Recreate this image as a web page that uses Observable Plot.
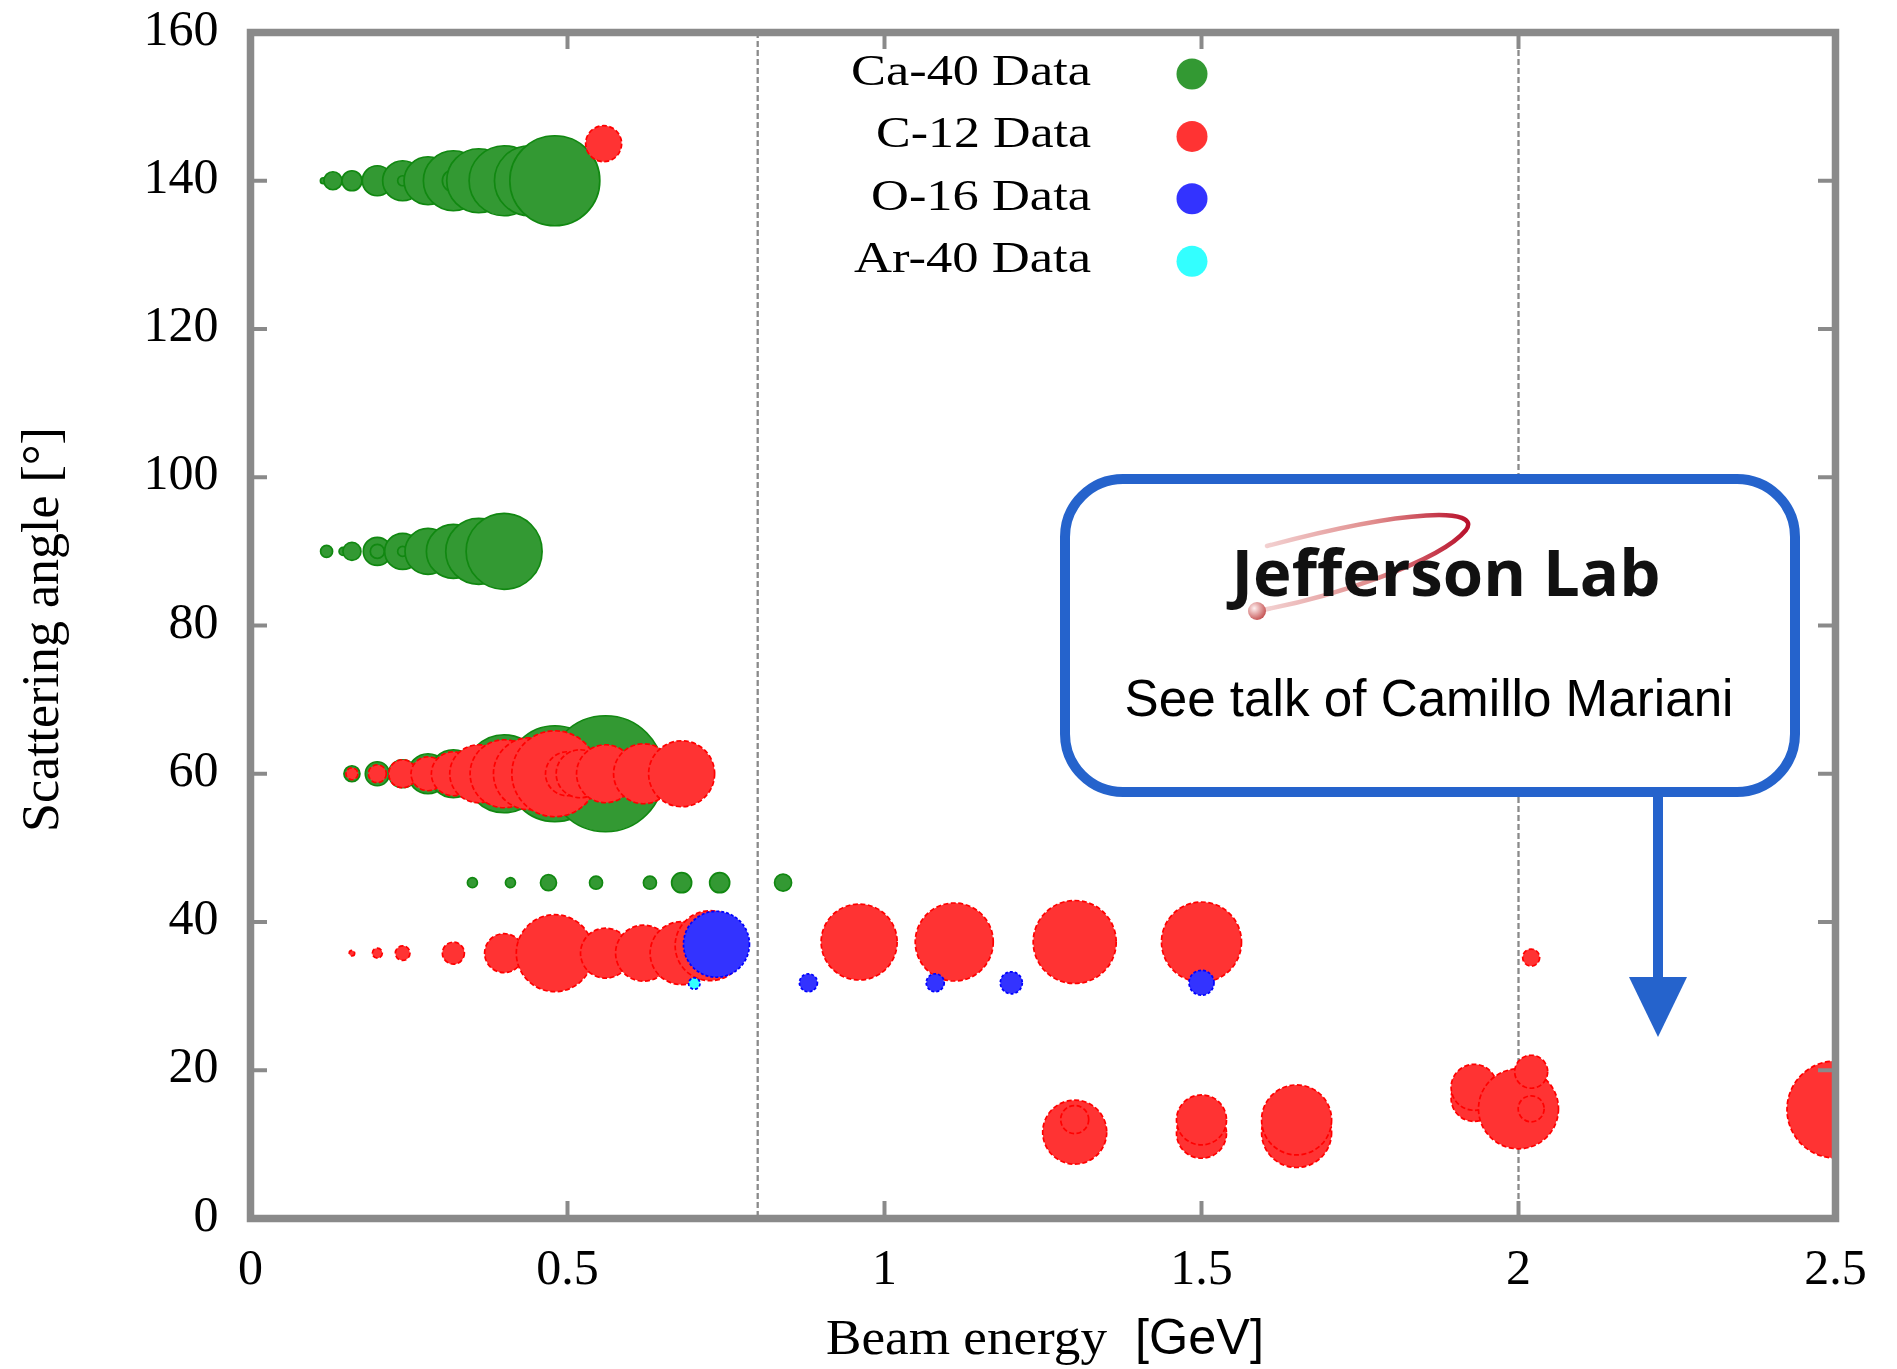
<!DOCTYPE html>
<html><head><meta charset="utf-8">
<script src="https://cdn.jsdelivr.net/npm/d3@7"></script>
<script src="https://cdn.jsdelivr.net/npm/@observablehq/plot@0.6"></script>
<style>
html,body{margin:0;padding:0;background:#fff;}
#wrap{position:relative;width:1897px;height:1369px;overflow:hidden;background:#fff;}
#overlay{position:absolute;left:0;top:0;pointer-events:none;}
</style></head><body><div id="wrap"></div>
<script>
// ---------------- data ----------------
const xTicks = [0, 0.5, 1, 1.5, 2, 2.5];
const yTicks = [0, 20, 40, 60, 80, 100, 120, 140, 160];
const refLines = [0.8, 2.0];
const seriesNames = ["Ca-40 Data", "C-12 Data", "O-16 Data", "Ar-40 Data"];

// Ca-40 (green)
const ca40Energy = [0.115, 0.13, 0.16, 0.20, 0.24, 0.24, 0.28, 0.32, 0.32, 0.36, 0.40, 0.44, 0.48,
                    0.12, 0.146, 0.16, 0.20, 0.20, 0.24, 0.24, 0.28, 0.32, 0.36, 0.40,
                    0.16, 0.20, 0.24, 0.28, 0.32, 0.36, 0.40, 0.48, 0.56,
                    0.35, 0.41, 0.47, 0.545, 0.63, 0.68, 0.74, 0.84];
const ca40Angle  = [140, 140, 140, 140, 140, 140, 140, 140, 140, 140, 140, 140, 140,
                    90, 90, 90, 90, 90, 90, 90, 90, 90, 90, 90,
                    60, 60, 60, 60, 60, 60, 60, 60, 60,
                    45.3, 45.3, 45.3, 45.3, 45.3, 45.3, 45.3, 45.3];
const ca40Size   = [3, 9, 10, 15, 20, 5, 24, 30, 11, 32, 35, 35, 45,
                    6, 4, 9, 14, 7, 18, 5, 23, 27, 33, 38,
                    8, 12, 14, 20, 24, 28, 39, 48, 58,
                    5, 5, 8, 6.5, 6.5, 10, 10, 8.5];

// C-12 (red)
const c12Energy = [0.557,
                   0.16, 0.20, 0.24, 0.28, 0.32, 0.36, 0.40, 0.44, 0.48, 0.50, 0.52, 0.56, 0.62, 0.68,
                   0.16, 0.20, 0.24, 0.32, 0.40, 0.48, 0.56, 0.62, 0.68, 0.725,
                   0.96, 1.11, 1.30, 1.50, 2.02,
                   1.30, 1.30, 1.50, 1.50, 1.65, 1.65, 1.93, 1.93, 2.00, 2.02, 2.02, 2.50];
const c12Angle  = [145,
                   60, 60, 60, 60, 60, 60, 60, 60, 60, 60, 60, 60, 60, 60,
                   35.8, 35.8, 35.8, 35.8, 35.8, 35.8, 35.8, 35.8, 35.8, 36.8,
                   37.3, 37.3, 37.3, 37.3, 35.2,
                   11.65, 13.35, 11.5, 13.3, 11.6, 13.3, 16.2, 17.7, 14.8, 14.8, 19.8, 14.7];
const c12Size   = [18,
                   6, 9, 14, 17, 22, 29, 34, 36, 43, 22, 24, 29, 30, 33,
                   2.7, 5, 7.3, 11, 19.5, 38.5, 25, 28, 31.5, 35,
                   38, 39, 41.5, 40, 8.5,
                   32, 14, 25, 25, 35, 35, 23, 23, 40, 13, 16.5, 48.5];

// O-16 (blue)
const o16Energy = [0.735, 0.88, 1.08, 1.20, 1.50];
const o16Angle  = [37, 31.8, 31.8, 31.8, 31.8];
const o16Size   = [33, 9, 9, 11, 12.5];

// Ar-40 (cyan)
const ar40Energy = [0.70];
const ar40Angle  = [31.7];
const ar40Size   = [5.7];

// ---------------- build tables ----------------
const table = (E, A, S) => E.map((e, i) => ({energy: e, angle: A[i], size: S[i]}));
const ca40 = table(ca40Energy, ca40Angle, ca40Size);
const c12 = table(c12Energy, c12Angle, c12Size);
const o16 = table(o16Energy, o16Angle, o16Size);
const ar40 = table(ar40Energy, ar40Angle, ar40Size);

const W = 1897, H = 1369;
const mL = 250, mR = 62, mT = 32, mB = 151;
const innerW = W - mL - mR, innerH = H - mT - mB;
const SERIF = "'Liberation Serif','Times New Roman',serif";
const SANS = "'Liberation Sans',Arial,sans-serif";
const GREY = "#8a8a8a";
const TICK = 17;

const colors = {
  ca: {fill: "#339933", stroke: "#118811"},
  c: {fill: "#ff3333", stroke: "#ff0000"},
  o: {fill: "#3333ff", stroke: "#0000ff"},
  ar: {fill: "#33ffff", stroke: "#0000ff"}
};

const plot = Plot.plot({
  width: W, height: H,
  marginLeft: mL, marginRight: mR, marginTop: mT, marginBottom: mB,
  style: {fontFamily: SERIF, background: "#fff", color: "#000", overflow: "visible"},
  x: {domain: [0, 2.5]},
  y: {domain: [0, 160]},
  r: {type: "linear", domain: [0, 50], range: [0, 50]},
  marks: [
    Plot.ruleX(refLines, {x: d => d, stroke: GREY, strokeWidth: 2.3, strokeDasharray: "6,3"}),
    Plot.dot(ca40, {x: "energy", y: "angle", r: "size", fill: colors.ca.fill, fillOpacity: 1, stroke: colors.ca.stroke, strokeWidth: 1.7, sort: null, clip: true}),
    Plot.dot(c12, {x: "energy", y: "angle", r: "size", fill: colors.c.fill, fillOpacity: 1, stroke: colors.c.stroke, strokeWidth: 1.7, strokeDasharray: "5,2.5", sort: null, clip: true}),
    Plot.dot(o16, {x: "energy", y: "angle", r: "size", fill: colors.o.fill, fillOpacity: 1, stroke: colors.o.stroke, strokeWidth: 1.7, strokeDasharray: "3,2", sort: null, clip: true}),
    Plot.dot(ar40, {x: "energy", y: "angle", r: "size", fill: colors.ar.fill, fillOpacity: 1, stroke: colors.ar.stroke, strokeWidth: 1.7, strokeDasharray: "3,2", sort: null, clip: true}),
    Plot.ruleX(xTicks, {x: d => d, insetTop: innerH - TICK, stroke: GREY, strokeWidth: 4}),
    Plot.ruleX(xTicks, {x: d => d, insetBottom: innerH - TICK, stroke: GREY, strokeWidth: 4}),
    Plot.ruleY(yTicks, {y: d => d, insetRight: innerW - TICK, stroke: GREY, strokeWidth: 4}),
    Plot.ruleY(yTicks, {y: d => d, insetLeft: innerW - TICK, stroke: GREY, strokeWidth: 4}),
    Plot.frame({stroke: GREY, strokeWidth: 7.5}),
    Plot.axisX({ticks: xTicks, tickFormat: d => String(d), tickSize: 0, tickPadding: 30, fontSize: 50, label: null}),
    Plot.axisY({ticks: yTicks, tickFormat: d => String(d), tickSize: 0, tickPadding: 32, fontSize: 50, label: null, dy: -4})
  ]
});

const wrap = document.getElementById("wrap");
wrap.appendChild(plot);

// ---------------- overlay: legend, axis titles, callout ----------------
const legendColors = [colors.ca.fill, colors.c.fill, colors.o.fill, colors.ar.fill];
const legendWidths = [240, 215, 220, 237];
let legend = "";
seriesNames.forEach((name, i) => {
  const yb = 85 + i * 62.4;
  legend += `<text x="1091" y="${yb}" text-anchor="end" font-family="${SERIF}" font-size="45" textLength="${legendWidths[i]}" lengthAdjust="spacingAndGlyphs" fill="#000">${name}</text>`;
  legend += `<circle cx="1192" cy="${yb - 11}" r="15.5" fill="${legendColors[i]}"/>`;
});

const overlay = `
<svg id="overlay" width="${W}" height="${H}" xmlns="http://www.w3.org/2000/svg">
  <defs>
    <linearGradient id="sw" x1="1257" y1="0" x2="1470" y2="0" gradientUnits="userSpaceOnUse">
      <stop offset="0" stop-color="#f4d6d6"/>
      <stop offset="0.55" stop-color="#e08c8c"/>
      <stop offset="1" stop-color="#b80f2a"/>
    </linearGradient>
    <radialGradient id="ball" cx="0.35" cy="0.35" r="0.7">
      <stop offset="0" stop-color="#fff0f0"/>
      <stop offset="1" stop-color="#c45050"/>
    </radialGradient>
  </defs>
  ${legend}
  <text transform="translate(58,629.5) rotate(-90)" text-anchor="middle" font-family="${SERIF}" font-size="52" fill="#000">Scattering angle [°]</text>
  <text x="826" y="1354" font-family="${SERIF}" font-size="50" textLength="281" lengthAdjust="spacingAndGlyphs" fill="#000">Beam energy</text>
  <text x="1135" y="1354" font-family="${SANS}" font-size="50" textLength="129" lengthAdjust="spacingAndGlyphs" fill="#000">[GeV]</text>
  <rect x="1065" y="479" width="730" height="313" rx="58" ry="58" fill="#fff" stroke="#2563cc" stroke-width="10"/>
  <line x1="1658" y1="792" x2="1658" y2="982" stroke="#2563cc" stroke-width="10"/>
  <polygon points="1629,977 1687,977 1658,1037" fill="#2563cc"/>
  <path d="M1257,611 C1330,598 1440,562 1466,530 C1482,508 1410,508 1267,546" fill="none" stroke="url(#sw)" stroke-width="4.5" stroke-linecap="round"/>
  <text x="1446" y="596" text-anchor="middle" font-family="'Open Sans',Lato,sans-serif" font-weight="700" font-size="64" textLength="429" lengthAdjust="spacingAndGlyphs" fill="#111">Jefferson Lab</text>
  <circle cx="1257" cy="611" r="9" fill="url(#ball)"/>
  <text x="1429" y="716" text-anchor="middle" font-family="${SANS}" font-size="52" textLength="609" lengthAdjust="spacingAndGlyphs" fill="#000">See talk of Camillo Mariani</text>
</svg>`;
wrap.insertAdjacentHTML("beforeend", overlay);
</script></body></html>
